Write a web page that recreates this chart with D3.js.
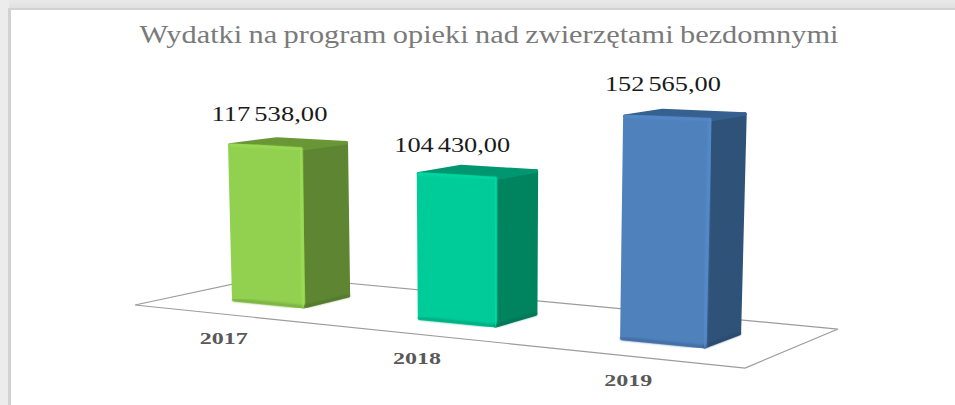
<!DOCTYPE html>
<html><head><meta charset="utf-8">
<script src="https://cdn.jsdelivr.net/npm/d3@7/dist/d3.min.js"></script>
<style>html,body{margin:0;padding:0;background:#fff;overflow:hidden}svg{display:block}</style>
</head><body><svg id="c" width="955" height="405"></svg>
<script>
const titleText = "Wydatki na program opieki nad zwierzętami bezdomnymi";
const years = ["2017", "2018", "2019"];
const expenses = [117538, 104430, 152565];
const frontColors = ["#92D050", "#00CC99", "#4F81BD"];
const sideColors = ["#5E8632", "#00835F", "#2F5279"];
const topColors = ["#6A9636", "#009670", "#36608F"];
const labelNudgeX = [-7.5, -9, 0.5];
const labelNudgeY = [-18, -15, -19];

const W = 955, H = 405;
const svg = d3.select("#c").attr("viewBox", [0, 0, W, H]);
const defs = svg.append("defs");
defs.append("filter").attr("id", "soft").append("feGaussianBlur").attr("stdDeviation", 1);
const frameTop = defs.append("linearGradient").attr("id", "ft").attr("x1", 0).attr("x2", 0).attr("y1", 0).attr("y2", 1);
frameTop.append("stop").attr("offset", "0").attr("stop-color", "#e9e9e9");
frameTop.append("stop").attr("offset", "1").attr("stop-color", "#dedede");

// page frame
svg.append("rect").attr("width", W).attr("height", 10).attr("fill", "url(#ft)");
svg.append("rect").attr("width", 9).attr("height", H).attr("fill", "#ececec");
svg.append("rect").attr("x", 8).attr("y", 9).attr("width", 3).attr("height", H - 9).attr("fill", "#d2d2d2");
svg.append("rect").attr("x", 8).attr("y", 8).attr("width", W - 8).attr("height", 2).attr("fill", "#d2d2d2");

// floor perspective: unit square (category position, depth) -> screen
const g = -0.1254, h = 0.0964, a = 516.6, b = 162.1, c = 135, d = 16.9, e = -2.4, f = 305;
const floor = (u, v) => {
  const w = g * u + h * v + 1;
  return [(a * u + b * v + c) / w, (d * u + e * v + f) / w];
};
const uScale = d3.scaleBand().domain(years).range([0, 0.985]).paddingInner(0.614).paddingOuter(0.286);
const depth = d3.scaleLinear().domain([0, 1]).range([0.335, 0.685]);
const valueScale = d3.scaleLinear().domain([0, 160000]).range([0, 160]);
const perspective = d3.scaleLinear().domain([295, 347]).range([1.30, 1.488]);
const vanish = [487, 10200];
const lift = ([x, y], value) => {
  const px = valueScale(value) * perspective(y);
  return [x + (x - vanish[0]) * px / (vanish[1] - y), y - px];
};
const line = d3.line();
const closed = d3.line().curve(d3.curveLinearClosed);

// floor
svg.append("path")
  .attr("d", closed([floor(0, 0), floor(1, 0), floor(1, 1), floor(0, 1)]))
  .attr("fill", "#fff").attr("stroke", "#9c9c9c").attr("stroke-width", 1.2);

// bars
const fmt = d3.formatLocale({decimal: ",", thousands: " ", grouping: [3], currency: ["", ""]}).format(",.2f");

years.forEach((yr, i) => {
  const u0 = uScale(yr), u1 = u0 + uScale.bandwidth();
  const v0 = depth(0), v1 = depth(1);
  const val = expenses[i];
  const fl = floor(u0, v0), fr = floor(u1, v0), br = floor(u1, v1), bl = floor(u0, v1);
  const tfl = lift(fl, val), tfr = lift(fr, val), tbr = lift(br, val), tbl = lift(bl, val);
  const bar = svg.append("g");
  const face = (pts, col) => bar.append("path").attr("d", closed(pts))
    .attr("fill", col).attr("stroke", col).attr("stroke-width", 3.5).attr("stroke-linejoin", "round");
  face([tfr, tbr, br, fr], sideColors[i]);
  face([tfl, tbl, tbr, tfr], topColors[i]);
  face([tfl, tfr, fr, fl], frontColors[i]);
  const edge = (pts, col, wd) => bar.append("path").attr("d", line(pts)).attr("fill", "none")
    .attr("stroke", col).attr("stroke-width", wd).attr("stroke-linecap", "round").attr("filter", "url(#soft)");
  const col = d3.color(frontColors[i]);
  edge([fl, fr], col.darker(0.5), 3);
  edge([fr, br], d3.color(sideColors[i]).darker(0.35), 2.5);
  edge([tfr, fr], col.brighter(0.2), 3);
  edge([tfl, tfr], col.brighter(0.2), 2);

  svg.append("text").text(fmt(val))
    .attr("x", tbl[0] + labelNudgeX[i]).attr("y", tbl[1] + labelNudgeY[i])
    .attr("text-anchor", "middle").attr("font-family", "Liberation Serif").attr("font-size", 20)
    .attr("word-spacing", -2)
    .attr("textLength", 116).attr("lengthAdjust", "spacingAndGlyphs").attr("fill", "#1a1a1a");

  const base = floor(u0 + uScale.bandwidth() / 2, 0);
  svg.append("text").text(yr)
    .attr("x", base[0] + 2).attr("y", base[1] + 30)
    .attr("text-anchor", "middle").attr("font-family", "Liberation Serif").attr("font-weight", "bold")
    .attr("font-size", 16).attr("textLength", 48).attr("lengthAdjust", "spacingAndGlyphs").attr("fill", "#595959");
});

svg.append("text").text(titleText)
  .attr("x", 489).attr("y", 43).attr("text-anchor", "middle")
  .attr("font-family", "Liberation Serif").attr("font-size", 25)
  .attr("word-spacing", -1)
  .attr("textLength", 699).attr("lengthAdjust", "spacingAndGlyphs").attr("fill", "#7a7a7a");
</script></body></html>
